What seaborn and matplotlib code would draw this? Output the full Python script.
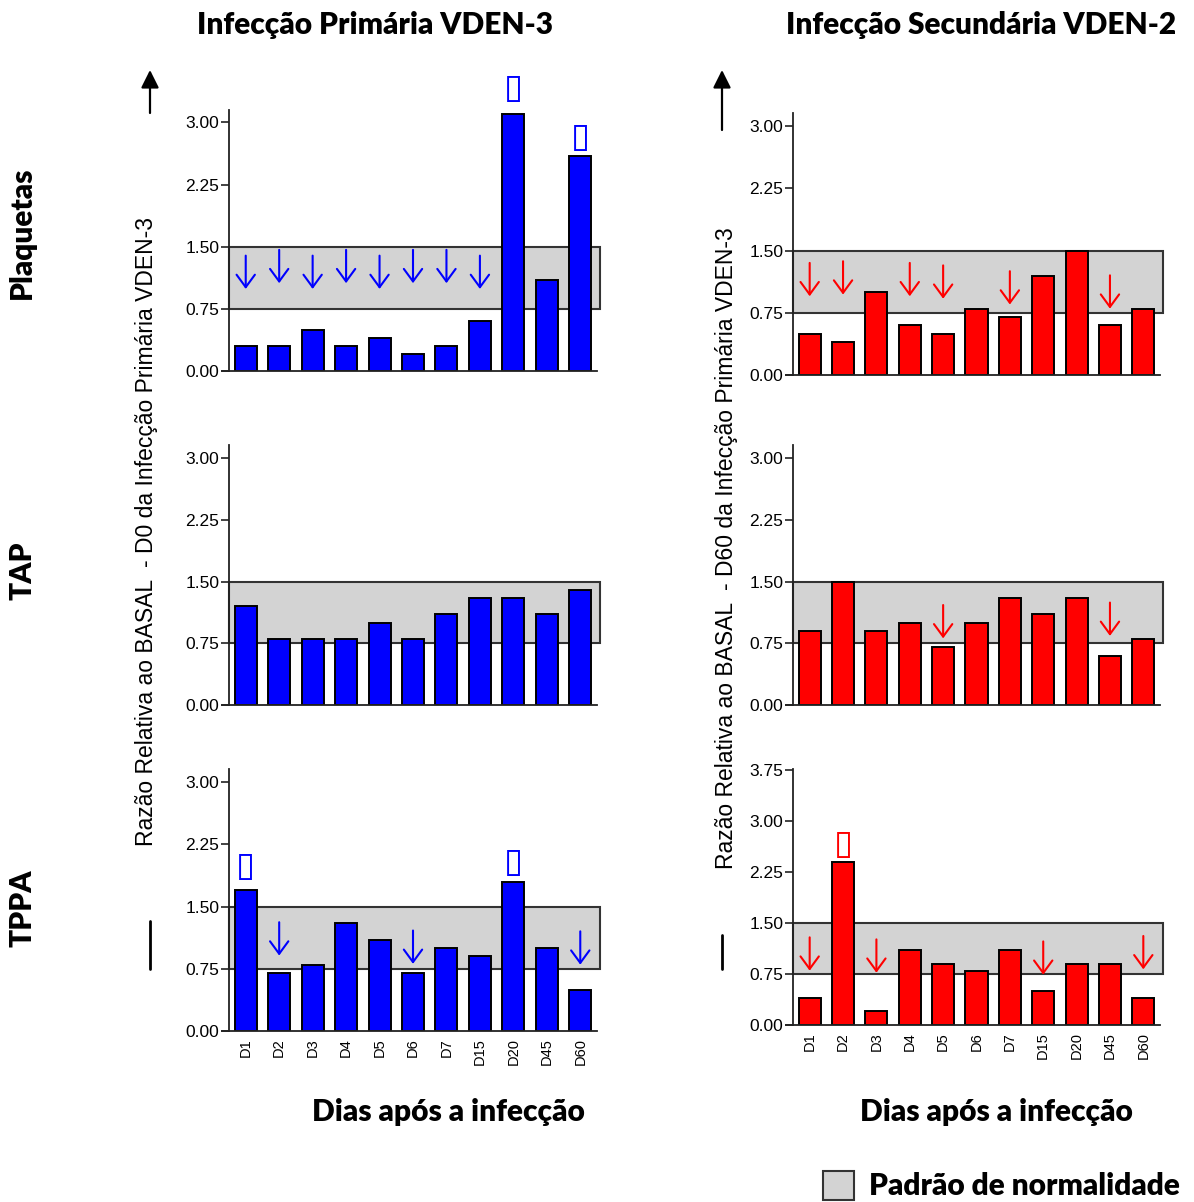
import matplotlib
matplotlib.use("Agg")
import matplotlib.pyplot as plt
from matplotlib.patches import Rectangle
import seaborn as sns
import pandas as pd

# data
days = ["D1", "D2", "D3", "D4", "D5", "D6", "D7", "D15", "D20", "D45", "D60"]

plaq_prim = [0.3, 0.3, 0.5, 0.3, 0.4, 0.2, 0.3, 0.6, 3.1, 1.1, 2.6]
plaq_sec = [0.5, 0.4, 1.0, 0.6, 0.5, 0.8, 0.7, 1.2, 1.5, 0.6, 0.8]
tap_prim = [1.2, 0.8, 0.8, 0.8, 1.0, 0.8, 1.1, 1.3, 1.3, 1.1, 1.4]
tap_sec = [0.9, 1.5, 0.9, 1.0, 0.7, 1.0, 1.3, 1.1, 1.3, 0.6, 0.8]
tppa_prim = [1.7, 0.7, 0.8, 1.3, 1.1, 0.7, 1.0, 0.9, 1.8, 1.0, 0.5]
tppa_sec = [0.4, 2.4, 0.2, 1.1, 0.9, 0.8, 1.1, 0.5, 0.9, 0.9, 0.4]

# down arrows: (day, y of arrow tip)
down_plaq_prim = [("D1", 0.99), ("D2", 1.06), ("D3", 0.99), ("D4", 1.06),
                  ("D5", 0.99), ("D6", 1.06), ("D7", 1.06), ("D15", 0.99)]
down_plaq_sec = [("D1", 0.95), ("D2", 0.97), ("D4", 0.95), ("D5", 0.92),
                 ("D7", 0.85), ("D45", 0.80)]
down_tap_prim = []
down_tap_sec = [("D5", 0.81), ("D45", 0.84)]
down_tppa_prim = [("D2", 0.91), ("D6", 0.81), ("D60", 0.80)]
down_tppa_sec = [("D1", 0.80), ("D3", 0.77), ("D15", 0.74), ("D60", 0.82)]

# up markers (rendered as empty boxes in the original): (day, y)
up_plaq_prim = [("D20", 3.42), ("D60", 2.82)]
up_plaq_sec = []
up_tap_prim = []
up_tap_sec = []
up_tppa_prim = [("D1", 1.99), ("D20", 2.04)]
up_tppa_sec = [("D2", 2.66)]

normal_low, normal_high = 0.75, 1.5

titles = ["Infecção Primária VDEN-3", "Infecção Secundária VDEN-2"]
row_labels = ["Plaquetas", "TAP", "TPPA"]
ylabels = ["Razão Relativa ao BASAL  - D0 da Infecção Primária VDEN-3",
           "Razão Relativa ao BASAL  - D60 da Infecção Primária VDEN-3"]
xlabel = "Dias após a infecção"
legend_label = "Padrão de normalidade"

sns.set_style("ticks")
plt.rcParams['font.family'] = 'sans-serif'
plt.rcParams['font.sans-serif'] = ['Liberation Sans', 'DejaVu Sans']
for k in ['text.color', 'axes.labelcolor', 'xtick.labelcolor', 'ytick.labelcolor']:
    plt.rcParams[k] = 'black'

W, H = 1194, 1202
fig = plt.figure(figsize=(W / 100, H / 100), dpi=100)


def fx(x):
    return x / W


def fy(y):
    return 1 - y / H


def make_ax(left, right, top, bottom):
    return fig.add_axes([fx(left), fy(bottom), fx(right) - fx(left), (bottom - top) / H])


panels = [
    # values, color, down arrows, up marks, pixel box, ymax, yticks, show x labels
    (plaq_prim, "#0000FF", down_plaq_prim, up_plaq_prim, (229, 597, 110, 371), 3.15, [0, 0.75, 1.5, 2.25, 3.0], False),
    (plaq_sec, "#FF0000", down_plaq_sec, up_plaq_sec, (793, 1160, 113, 375), 3.16, [0, 0.75, 1.5, 2.25, 3.0], False),
    (tap_prim, "#0000FF", down_tap_prim, up_tap_prim, (229, 597, 445, 705), 3.16, [0, 0.75, 1.5, 2.25, 3.0], False),
    (tap_sec, "#FF0000", down_tap_sec, up_tap_sec, (793, 1160, 445, 705), 3.16, [0, 0.75, 1.5, 2.25, 3.0], False),
    (tppa_prim, "#0000FF", down_tppa_prim, up_tppa_prim, (229, 597, 769, 1031), 3.16, [0, 0.75, 1.5, 2.25, 3.0], True),
    (tppa_sec, "#FF0000", down_tppa_sec, up_tppa_sec, (793, 1160, 769, 1025), 3.77, [0, 0.75, 1.5, 2.25, 3.0, 3.75], True),
]

for vals, col, downs, ups, box, ymax, yt, showx in panels:
    ax = make_ax(*box)
    df = pd.DataFrame({"dia": days, "valor": vals})
    sns.barplot(data=df, x="dia", y="valor", color=col, saturation=1,
                edgecolor="black", linewidth=1.4, width=0.66, ax=ax, zorder=2)
    ax.add_patch(Rectangle((-0.5, normal_low), 11.1, normal_high - normal_low,
                           facecolor="#D3D3D3", edgecolor="#333333", lw=1.5,
                           zorder=0.5, clip_on=False))
    ax.set_xlim(-0.5, 10.5)
    ax.set_ylim(0, ymax)
    ax.set_yticks(yt)
    ax.set_yticklabels([f"{t:.2f}" for t in yt])
    ax.set_xlabel("")
    ax.set_ylabel("")
    sns.despine(ax=ax)
    for s in ["left", "bottom"]:
        ax.spines[s].set_linewidth(1.3)
        ax.spines[s].set_color("#222222")
    ax.spines["bottom"].set_bounds(-0.7, 10.5)
    ax.tick_params(axis="y", length=6, width=1.2, color="#222222", labelsize=12.5, pad=1)
    ax.tick_params(axis="x", length=0, labelsize=10.5, rotation=90, pad=5)
    if not showx:
        ax.set_xticklabels([])
    for d, tip in downs:
        i = days.index(d)
        ax.annotate("", xy=(i, tip), xytext=(0, 24), textcoords="offset points",
                    xycoords="data",
                    arrowprops=dict(arrowstyle="->,head_length=0.45,head_width=0.33",
                                    color=col, lw=1.5, mutation_scale=20,
                                    shrinkA=0, shrinkB=0), zorder=3)
    for d, yv in ups:
        i = days.index(d)
        ax.text(i, yv, "\u25AF", color=col, fontsize=25, ha="center", va="center",
                family=["DejaVu Sans"], clip_on=False)

# column titles
title_font = dict(family=["Lato", "DejaVu Sans"], fontweight="heavy", fontsize=21.5)
fig.text(fx(375), fy(25), titles[0], ha="center", va="center", **title_font)
fig.text(fx(981), fy(25), titles[1], ha="center", va="center", **title_font)

# row labels
for lab, yy in zip(row_labels, [233, 571, 908]):
    fig.text(fx(22), fy(yy), lab, rotation=90, ha="center", va="center", **title_font)

# y axis titles
fig.text(fx(147), fy(531), ylabels[0], rotation=90, ha="center", va="center", fontsize=16.5)
fig.text(fx(727), fy(548), ylabels[1], rotation=90, ha="center", va="center", fontsize=16.5)

# x axis titles
fig.text(fx(448), fy(1112), xlabel, ha="center", va="center", **title_font)
fig.text(fx(996), fy(1112), xlabel, ha="center", va="center", **title_font)

# black arrows and bars on the left margins
for x0, y_tail, y_tip in [(150, 113, 70), (722, 130, 70)]:
    fig.add_artist(plt.Annotation("", xy=(fx(x0), fy(y_tip)), xytext=(fx(x0), fy(y_tail)),
                                  xycoords="figure fraction", textcoords="figure fraction",
                                  arrowprops=dict(arrowstyle="-|>,head_length=0.6,head_width=0.3",
                                                  color="black", lw=1.6, mutation_scale=18,
                                                  shrinkA=0, shrinkB=0)))
for x0, y1, y2 in [(150, 921, 969), (722, 935, 969)]:
    fig.add_artist(plt.Line2D([fx(x0), fx(x0)], [fy(y1), fy(y2)], color="black", lw=2))

# legend
fig.add_artist(Rectangle((fx(823), fy(1200)), fx(854) - fx(823), (1200 - 1171) / H,
                         transform=fig.transFigure, facecolor="#D3D3D3",
                         edgecolor="#333333", lw=1.5))
fig.text(fx(869), fy(1186), legend_label, ha="left", va="center", **title_font)

fig.savefig("out.png", dpi=100)
